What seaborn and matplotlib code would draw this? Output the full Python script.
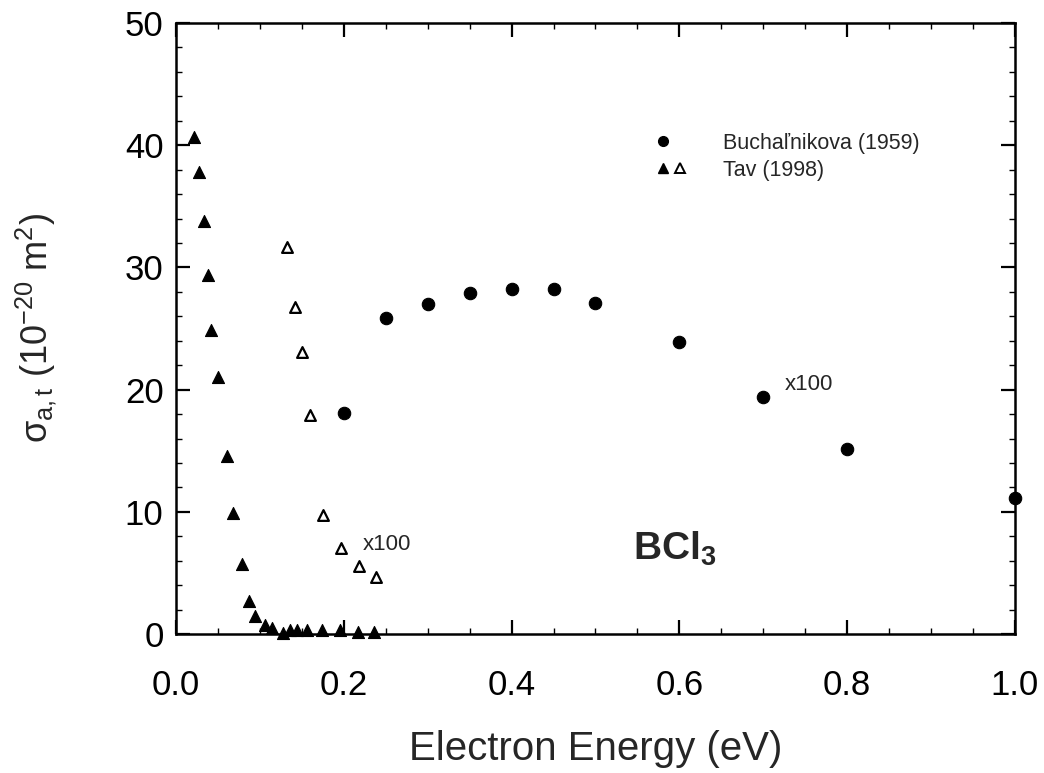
import matplotlib
matplotlib.use("Agg")
import matplotlib.pyplot as plt
from matplotlib.lines import Line2D
from matplotlib.legend_handler import HandlerTuple
from matplotlib.ticker import MultipleLocator
import numpy as np
import pandas as pd
import seaborn as sns

# ---- data ----
buch_energy = [0.20, 0.25, 0.30, 0.35, 0.40, 0.45, 0.50, 0.60, 0.70, 0.80, 1.00]
buch_sigma = [18.1, 25.9, 27.0, 27.9, 28.2, 28.2, 27.1, 23.9, 19.4, 15.1, 11.1]

tav_energy = [0.0215, 0.0274, 0.0334, 0.038, 0.042, 0.050, 0.061, 0.068, 0.079,
              0.087, 0.094, 0.106, 0.114, 0.128, 0.136, 0.144, 0.156, 0.174,
              0.195, 0.217, 0.236]
tav_sigma = [40.7, 37.8, 33.8, 29.4, 24.9, 21.0, 14.6, 9.9, 5.7,
             2.7, 1.5, 0.7, 0.5, 0.1, 0.3, 0.3, 0.3, 0.3,
             0.3, 0.2, 0.2]

tav100_energy = [0.132, 0.142, 0.150, 0.160, 0.175, 0.197, 0.218, 0.238]
tav100_sigma = [31.7, 26.8, 23.1, 17.9, 9.7, 7.0, 5.6, 4.7]

x_ticks = [0.0, 0.2, 0.4, 0.6, 0.8, 1.0]
x_tick_labels = ["0.0", "0.2", "0.4", "0.6", "0.8", "1.0"]
y_ticks = [0, 10, 20, 30, 40, 50]
y_tick_labels = ["0", "10", "20", "30", "40", "50"]
legend_labels = ["Buchaľnikova (1959)", "Tav (1998)"]

sns.set_style("ticks")
plt.rcParams["font.family"] = ["Liberation Sans", "DejaVu Sans"]
plt.rcParams["mathtext.fontset"] = "custom"
plt.rcParams["mathtext.rm"] = "Liberation Sans"
plt.rcParams["mathtext.it"] = "Liberation Sans:italic"
plt.rcParams["mathtext.bf"] = "Liberation Sans:bold"

fig = plt.figure(figsize=(10.44, 7.73), dpi=100)
ax = fig.add_axes([0.1686, 0.1798, 0.8036, 0.7904])

df_b = pd.DataFrame({"E": buch_energy, "s": buch_sigma})
df_t = pd.DataFrame({"E": tav_energy, "s": tav_sigma})
df_t100 = pd.DataFrame({"E": tav100_energy, "s": tav100_sigma})

sns.scatterplot(data=df_b, x="E", y="s", ax=ax, marker="o", s=80,
                color="black", edgecolor="black", linewidth=0.8, clip_on=False, zorder=5)
sns.scatterplot(data=df_t, x="E", y="s", ax=ax, marker="^", s=75,
                color="black", edgecolor="black", linewidth=0.8, clip_on=False, zorder=5)
sns.scatterplot(data=df_t100, x="E", y="s", ax=ax, marker="^", s=60,
                facecolor="white", edgecolor="black", linewidth=1.6, clip_on=False, zorder=5)

ax.set_xlim(0, 1.0)
ax.set_ylim(0, 50)
ax.set_xticks(x_ticks)
ax.set_xticklabels(x_tick_labels)
ax.set_yticks(y_ticks)
ax.set_yticklabels(y_tick_labels)
ax.xaxis.set_minor_locator(MultipleLocator(0.05))
ax.yaxis.set_minor_locator(MultipleLocator(2))
ax.tick_params(which="both", direction="in", top=True, right=True, colors="black")
ax.tick_params(which="major", length=10, width=1.6, labelsize=25)
ax.tick_params(which="minor", length=4, width=1.0)
ax.tick_params(axis="x", which="major", pad=25)
ax.tick_params(axis="y", which="major", pad=9)
for sp in ax.spines.values():
    sp.set_linewidth(1.8)
    sp.set_color("black")

ax.set_xlabel("Electron Energy (eV)", fontsize=29, labelpad=20)
ax.set_ylabel("σ$_{\\mathrm{a,t}}$ (10$^{\\mathrm{-20}}$ m$^{\\mathrm{2}}$)", fontsize=26)
ax.yaxis.set_label_coords(-0.14, 0.5)

h1 = Line2D([], [], marker="o", linestyle="none", color="black", markersize=7)
h1_blank = Line2D([], [], linestyle="none", marker="none")
h2a = Line2D([], [], marker="^", linestyle="none", color="black", markersize=7)
h2b = Line2D([], [], marker="^", linestyle="none", markerfacecolor="white",
             markeredgecolor="black", markeredgewidth=1.4, markersize=7)
ax.legend([(h1, h1_blank), (h2a, h2b)], legend_labels,
          handler_map={tuple: HandlerTuple(ndivide=None, pad=0.18)},
          loc="center left", bbox_to_anchor=(0.549, 0.781), frameon=False,
          fontsize=15.5, handlelength=1.45, handletextpad=1.67, labelspacing=0.28,
          borderpad=0.4)

ax.text(0.222, 7.3, "x100", fontsize=16, ha="left", va="center")
ax.text(0.725, 20.4, "x100", fontsize=16, ha="left", va="center")
ax.text(0.545, 7.0, r"$\mathbf{BCl_3}$", fontsize=28, ha="left", va="center")

fig.savefig("out.png", dpi=100)
